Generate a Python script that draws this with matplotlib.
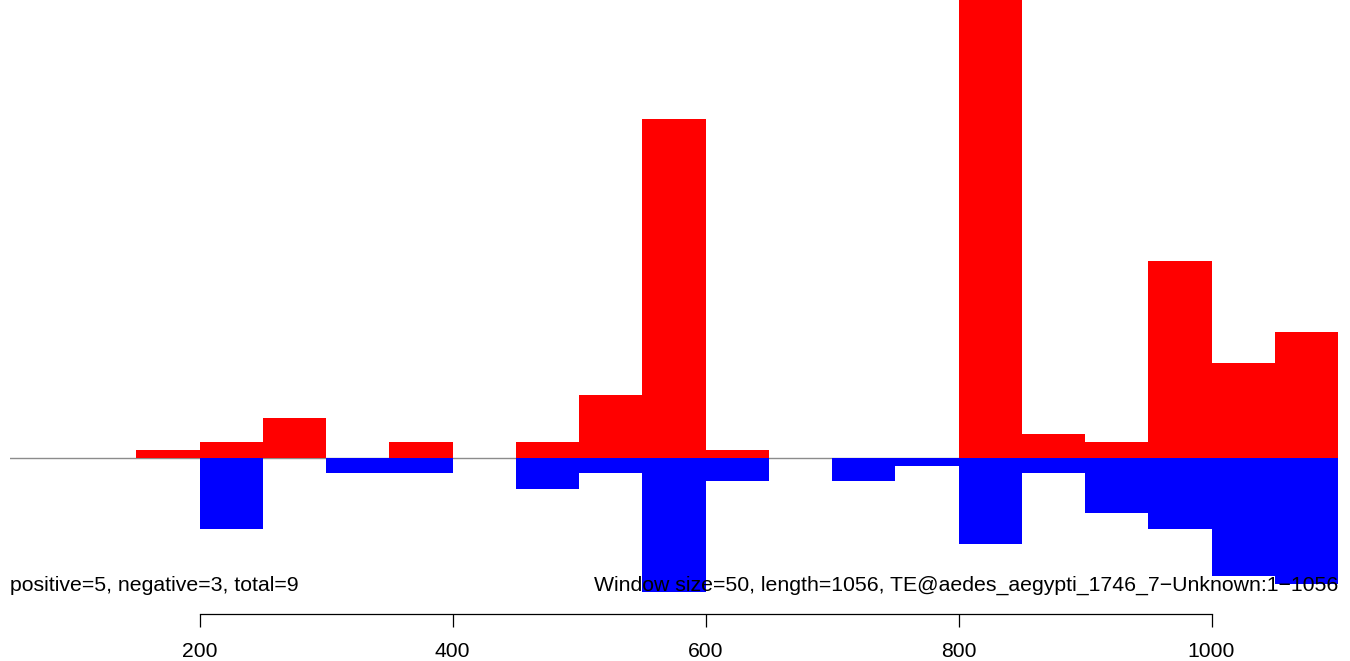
import numpy as np
import matplotlib
matplotlib.use('Agg')
import matplotlib.pyplot as plt

plt.rcParams['font.family'] = ['Liberation Sans', 'DejaVu Sans']

# window starts (window size = 50)
starts = np.arange(50, 1100, 50)
# counts per window
positive = [0, 0, 1, 2, 5, 0, 2, 0, 2, 8, 43, 1, 0, 0, 0, 80, 3, 2, 25, 12, 16]
negative = [0, 0, 0, 9, 0, 2, 2, 0, 4, 2, 17, 3, 0, 3, 1, 11, 2, 7, 9, 15, 16]
xticks = [200, 400, 600, 800, 1000]
left_note = "positive=5, negative=3, total=9"
right_note = "Window size=50, length=1056, TE@aedes_aegypti_1746_7\u2212Unknown:1\u22121056"

W, H = 1350, 661
fig = plt.figure(figsize=(W / 100, H / 100), dpi=100)
ax = fig.add_axes([10 / W, (H - 600) / H, 1328 / W, 600 / H])

ax.axhline(0, color='#8c8c8c', lw=1, zorder=1)
ax.bar(starts, positive, width=50, align='edge', color='red', linewidth=0, zorder=2)
ax.bar(starts, [-v for v in negative], width=50, align='edge', color='blue', linewidth=0, zorder=2)

ax.set_xlim(50, 1100)
ax.set_ylim(-18.08, 58.16)

for s in ['top', 'left', 'right']:
    ax.spines[s].set_visible(False)
ax.spines['bottom'].set_position(('outward', 10))
ax.spines['bottom'].set_bounds(200, 1000)
ax.spines['bottom'].set_linewidth(0.9)
ax.set_yticks([])
ax.set_xticks(xticks)
ax.set_xticklabels([str(t) for t in xticks])
ax.tick_params(axis='x', length=9.5, width=0.9, pad=11, labelsize=15.2)

ax.text(50, -16.2, left_note, ha='left', va='center', fontsize=15.3, zorder=5)
ax.text(1100, -16.2, right_note, ha='right', va='center', fontsize=15.3, zorder=5)

fig.savefig('out.png', dpi=100)
